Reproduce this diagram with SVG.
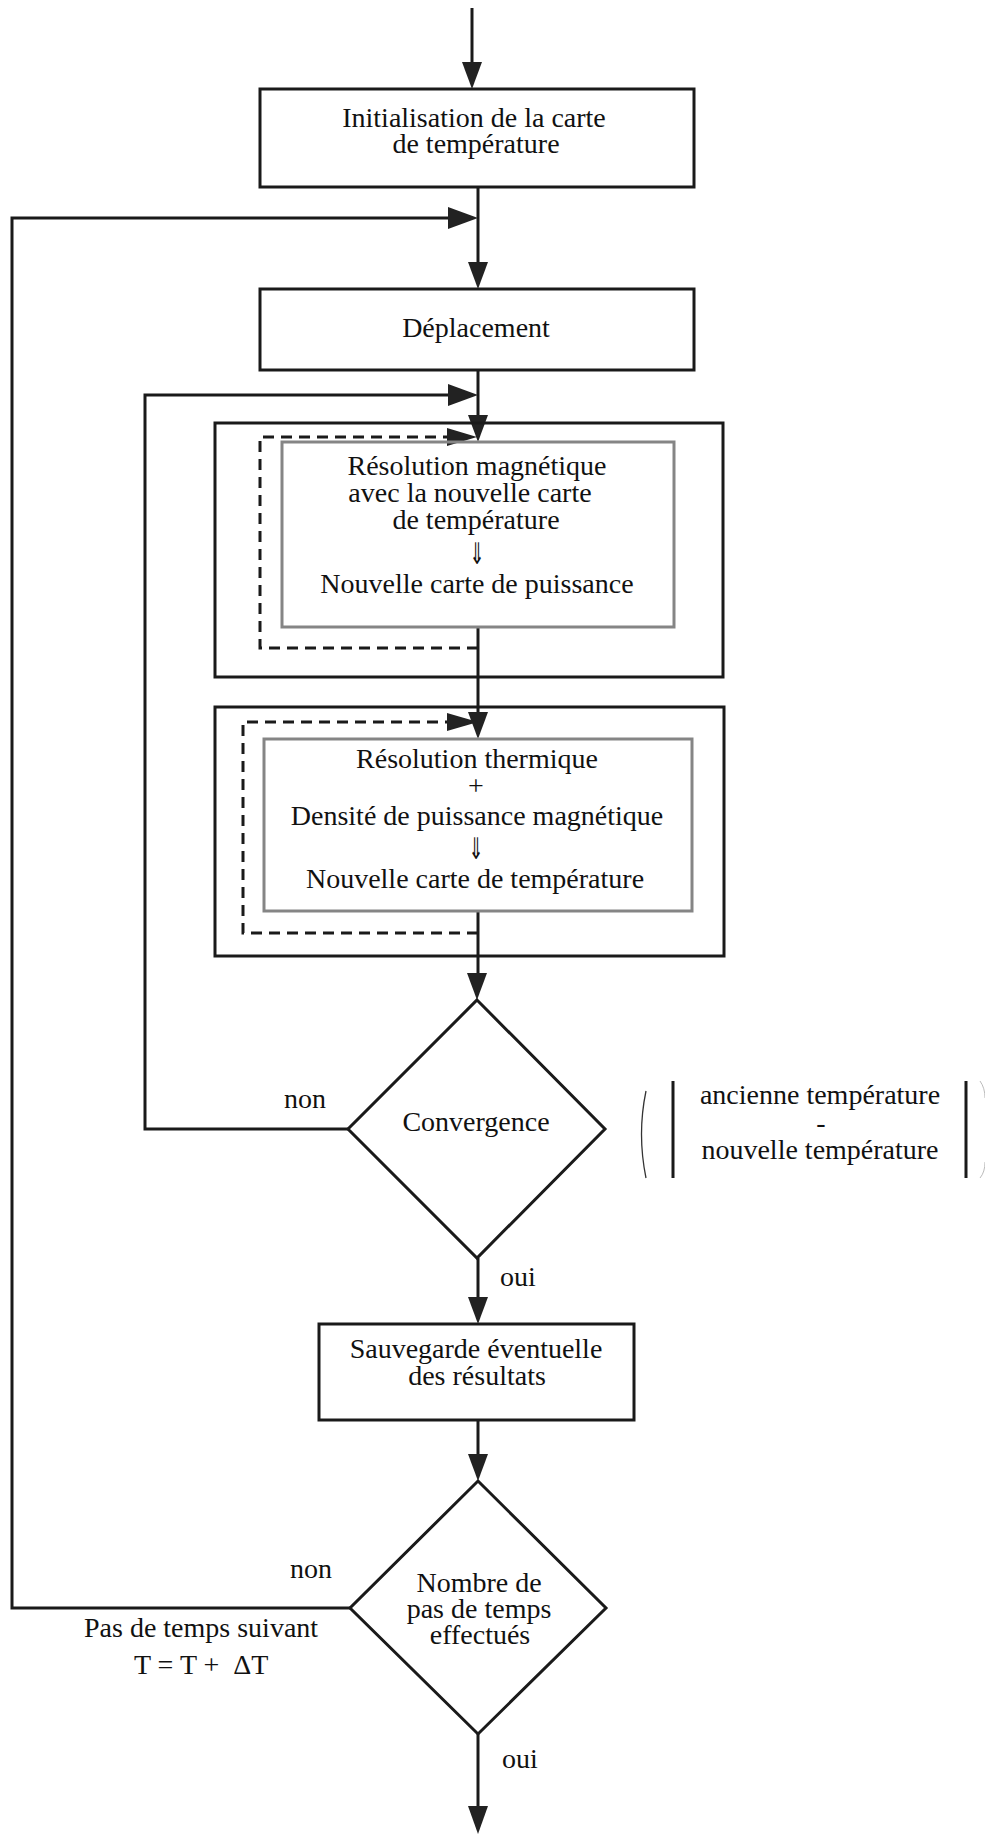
<svg xmlns="http://www.w3.org/2000/svg" width="985" height="1834" viewBox="0 0 985 1834">
<style>
text{font-family:"Liberation Serif","Times New Roman",serif;font-size:28px;fill:#111;}
.c{text-anchor:middle;}
.box{fill:#fff;stroke:#1a1a1a;stroke-width:3;}
.outer{fill:none;stroke:#1a1a1a;stroke-width:3;}
.inner{fill:none;stroke:#858585;stroke-width:3;}
.ln{fill:none;stroke:#1a1a1a;stroke-width:3;}
.dash{fill:none;stroke:#1a1a1a;stroke-width:3;stroke-dasharray:11 7;}
.ah{fill:#222;stroke:none;}
.arr{font-family:"DejaVu Sans","DejaVu Serif",sans-serif;font-size:30px;}
</style>
<rect width="985" height="1834" fill="#fff"/>
<g id="connectors">
<path class="ln" d="M472,8 V64"/>
<polygon class="ah" points="462,62 482,62 472,89"/>
<path class="ln" d="M478,187 V264"/>
<polygon class="ah" points="468,262 488,262 478,289"/>
<path class="ln" d="M350,1608 H12 V218 H450"/>
<polygon class="ah" points="448,207 448,229 478,218"/>
<path class="ln" d="M478,370 V417"/>
<polygon class="ah" points="468,415 488,415 478,442"/>
<path class="ln" d="M348,1129 H145 V395 H450"/>
<polygon class="ah" points="448,384 448,406 478,395"/>
<path class="dash" d="M478,648 H260 V437 H449"/>
<polygon class="ah" points="447,428 447,446 477,437"/>
<path class="ln" d="M478,627 V714"/>
<polygon class="ah" points="468,712 488,712 478,739"/>
<path class="dash" d="M478,933 H243 V722 H449"/>
<polygon class="ah" points="447,713 447,731 478,722"/>
<path class="ln" d="M478,911 V975"/>
<polygon class="ah" points="467,973 487,973 477,1000"/>
<path class="ln" d="M478,1258 V1299"/>
<polygon class="ah" points="468,1297 488,1297 478,1324"/>
<path class="ln" d="M478,1420 V1456"/>
<polygon class="ah" points="468,1454 488,1454 478,1481"/>
<path class="ln" d="M478,1734 V1808"/>
<polygon class="ah" points="468,1806 488,1806 478,1834"/>
</g>
<g id="n_init">
<rect class="box" x="260" y="89" width="434" height="98"/>
<text class="c" x="474" y="127">Initialisation de la carte</text>
<text class="c" x="476" y="153">de température</text>
</g>
<g id="n_deplacement">
<rect class="box" x="260" y="289" width="434" height="81"/>
<text class="c" x="476" y="337">Déplacement</text>
</g>
<g id="n_magnetique">
<rect class="outer" x="215" y="423" width="508" height="254"/>
<rect class="inner" x="282" y="442" width="392" height="185"/>
<text class="c" x="477" y="475">Résolution magnétique</text>
<text class="c" x="470" y="502">avec la nouvelle carte</text>
<text class="c" x="476" y="529">de température</text>
<text class="c arr" transform="translate(477,564) scale(0.6,1)">⇓</text>
<text class="c" x="477" y="593">Nouvelle carte de puissance</text>
</g>
<g id="n_thermique">
<rect class="outer" x="215" y="707" width="509" height="249"/>
<rect class="inner" x="264" y="739" width="428" height="172"/>
<text class="c" x="477" y="768">Résolution thermique</text>
<text class="c" x="476" y="795">+</text>
<text class="c" x="477" y="825">Densité de puissance magnétique</text>
<text class="c arr" transform="translate(476,859) scale(0.6,1)">⇓</text>
<text class="c" x="475" y="888">Nouvelle carte de température</text>
</g>
<g id="n_convergence">
<polygon class="box" points="477,1000 605,1129 477,1258 348,1129"/>
<text class="c" x="476" y="1131">Convergence</text>
<text x="284" y="1108">non</text>
<text x="500" y="1286">oui</text>
</g>
<g id="n_critere">
<path d="M646,1091 Q637,1134 646,1178" fill="none" stroke="#333" stroke-width="1.3"/>
<path class="ln" d="M673,1081 V1178 M966,1081 V1178"/>
<path d="M980,1081 Q985,1088 985,1098 M985,1162 Q985,1172 980,1178" fill="none" stroke="#bbb" stroke-width="1"/>
<text class="c" x="820" y="1104">ancienne température</text>
<text class="c" x="821" y="1132">-</text>
<text class="c" x="820" y="1159">nouvelle température</text>
</g>
<g id="n_sauvegarde">
<rect class="box" x="319" y="1324" width="315" height="96"/>
<text class="c" x="476" y="1358">Sauvegarde éventuelle</text>
<text class="c" x="477" y="1385">des résultats</text>
</g>
<g id="n_nombre">
<polygon class="box" points="478,1481 606,1608 478,1734 350,1608"/>
<text class="c" x="479" y="1592">Nombre de</text>
<text class="c" x="479" y="1618">pas de temps</text>
<text class="c" x="480" y="1644">effectués</text>
<text x="290" y="1578">non</text>
<text x="502" y="1768">oui</text>
<text x="84" y="1637">Pas de temps suivant</text>
<text x="134" y="1674" style="white-space:pre">T = T +  ΔT</text>
</g>
</svg>
